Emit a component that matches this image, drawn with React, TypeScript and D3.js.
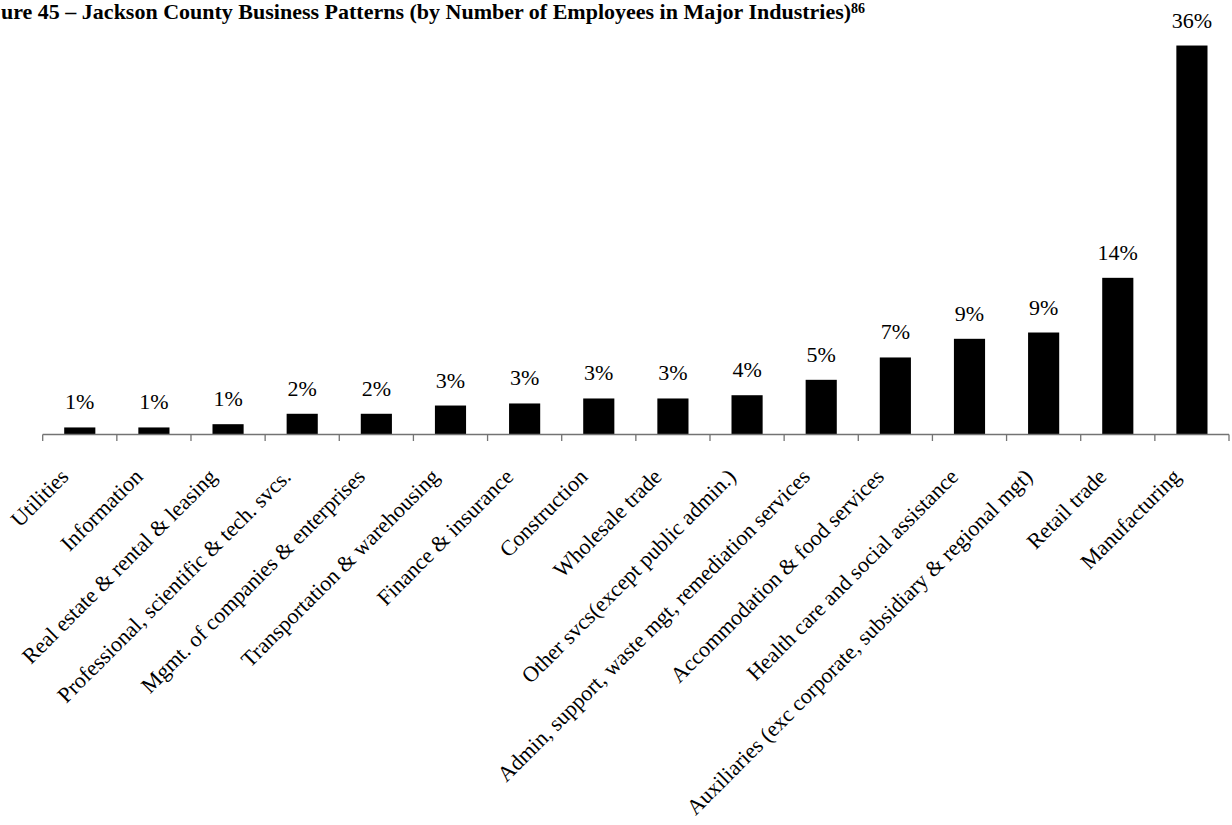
import React from "react";
import * as d3 from "d3";

const categories: string[] = [
  "Utilities",
  "Information",
  "Real estate & rental & leasing",
  "Professional, scientific & tech. svcs.",
  "Mgmt. of companies & enterprises",
  "Transportation & warehousing",
  "Finance & insurance",
  "Construction",
  "Wholesale trade",
  "Other svcs(except public admin.)",
  "Admin, support, waste mgt, remediation services",
  "Accommodation & food services",
  "Health care and social assistance",
  "Auxiliaries (exc corporate, subsidiary & regional mgt)",
  "Retail trade",
  "Manufacturing",
];

// share of employees, percent
const values: number[] = [0.65, 0.65, 0.95, 1.91, 1.91, 2.67, 2.86, 3.32, 3.32, 3.62, 5.04, 7.1, 8.82, 9.4, 14.44, 35.85];

// the reference shows the title cut at the left edge
const titleMain = "ure 45 – Jackson County Business Patterns (by Number of Employees in Major Industries)";
const titleNote = "86";

const W = 1232;
const H = 825;
const AXIS_Y = 434.5;
const X0 = 42.7;
const X1 = 1229;
const LABEL_FONT = "'Liberation Serif', 'Times New Roman', serif";

export default function App() {
  const x = d3.scaleBand<string>().domain(categories).range([X0, X1]).paddingInner(0.58).paddingOuter(0.29);
  const y = d3.scaleLinear().domain([0, 36]).range([AXIS_Y, AXIS_Y - 36 * 10.85]);
  const step = x.step();
  const ticks = d3.range(categories.length + 1).map((i) => X0 + i * step);

  return (
    <svg
      width={W}
      height={H}
      viewBox={`0 0 ${W} ${H}`}
      style={{ position: "absolute", left: 0, top: 0, background: "#fff", overflow: "hidden" }}
    >
      <rect x={0} y={0} width={W} height={H} fill="#fff" />
      <text x={1} y={19} fontFamily={LABEL_FONT} fontWeight="bold" fontSize={22} fill="#000">
        {titleMain}
        <tspan fontSize={14} dy={-6}>{titleNote}</tspan>
      </text>

      {categories.map((c, i) => (
        <rect
          key={c}
          x={x(c)}
          y={y(values[i])}
          width={x.bandwidth()}
          height={AXIS_Y - y(values[i])}
          fill="#000"
        />
      ))}

      <line x1={X0} x2={X1} y1={AXIS_Y} y2={AXIS_Y} stroke="#737373" strokeWidth={1.3} />
      {ticks.map((t, i) => (
        <line key={i} x1={t} x2={t} y1={AXIS_Y} y2={AXIS_Y + 6.5} stroke="#737373" strokeWidth={1.3} />
      ))}

      {categories.map((c, i) => (
        <text
          key={"v" + c}
          x={(x(c) as number) + x.bandwidth() / 2}
          y={y(values[i]) - 18}
          textAnchor="middle"
          fontFamily={LABEL_FONT}
          fontSize={22}
          fill="#000"
        >
          {Math.round(values[i]) + "%"}
        </text>
      ))}

      {categories.map((c) => {
        const cx = (x(c) as number) + x.bandwidth() / 2;
        return (
          <text
            key={"l" + c}
            transform={`translate(${cx - 10},${478}) rotate(-45)`}
            textAnchor="end"
            fontFamily={LABEL_FONT}
            fontSize={22}
            fill="#000"
          >
            {c}
          </text>
        );
      })}
    </svg>
  );
}
